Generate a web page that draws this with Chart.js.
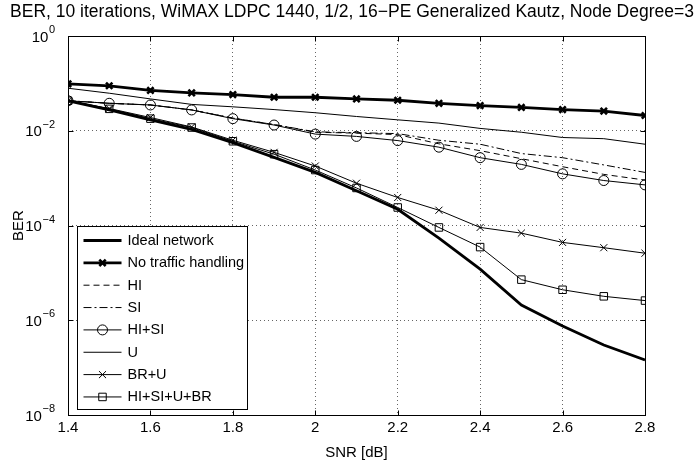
<!DOCTYPE html>
<html>
<head>
<meta charset="utf-8">
<script src="https://cdn.jsdelivr.net/npm/chart.js@4.4.0/dist/chart.umd.min.js"></script>
<style>html,body{margin:0;padding:0;background:#fff;}canvas{display:block;}</style>
</head>
<body>
<canvas id="c" width="694" height="471"></canvas>
<script>
// ---- data ----
const snr = [1.4, 1.5, 1.6, 1.7, 1.8, 1.9, 2.0, 2.1, 2.2, 2.3, 2.4, 2.5, 2.6, 2.7, 2.8];
const idealNetwork      = [4.3e-2, 2.75e-2, 1.7e-2, 1.07e-2, 5.6e-3, 2.75e-3, 1.32e-3, 5.4e-4, 2.2e-4, 5.4e-5, 1.2e-5, 2.1e-6, 7.6e-7, 3.0e-7, 1.45e-7];
const noTrafficHandling = [9.8e-2, 8.9e-2, 7.1e-2, 6.3e-2, 5.8e-2, 5.1e-2, 5.1e-2, 4.7e-2, 4.4e-2, 3.8e-2, 3.4e-2, 3.1e-2, 2.8e-2, 2.6e-2, 2.1e-2];
const hi                = [4.3e-2, 3.8e-2, 3.5e-2, 2.75e-2, 1.85e-2, 1.35e-2, 9.3e-3, 8.9e-3, 8.3e-3, 5.3e-3, 3.8e-3, 2.57e-3, 1.74e-3, 1.2e-3, 9.1e-4];
const si                = [4.3e-2, 3.8e-2, 3.5e-2, 2.75e-2, 1.85e-2, 1.35e-2, 9.5e-3, 9.1e-3, 8.7e-3, 6.3e-3, 5.2e-3, 3.3e-3, 2.7e-3, 1.9e-3, 1.32e-3];
const hiSi              = [4.3e-2, 3.8e-2, 3.5e-2, 2.75e-2, 1.8e-2, 1.32e-2, 8.5e-3, 7.6e-3, 6.2e-3, 4.5e-3, 2.7e-3, 1.95e-3, 1.23e-3, 8.9e-4, 7.2e-4];
const u                 = [7.9e-2, 6.2e-2, 4.7e-2, 3.6e-2, 3.2e-2, 2.8e-2, 2.4e-2, 2.0e-2, 1.7e-2, 1.45e-2, 1.12e-2, 9.3e-3, 7.2e-3, 6.8e-3, 5.2e-3];
const brU               = [4.3e-2, 2.95e-2, 1.9e-2, 1.2e-2, 6.3e-3, 3.5e-3, 1.8e-3, 7.8e-4, 3.9e-4, 2.1e-4, 9.1e-5, 6.9e-5, 4.4e-5, 3.4e-5, 2.6e-5];
const hiSiUBr           = [4.3e-2, 2.9e-2, 1.8e-2, 1.17e-2, 6.0e-3, 3.2e-3, 1.48e-3, 6.2e-4, 2.4e-4, 9.1e-5, 3.5e-5, 7.2e-6, 4.4e-6, 3.2e-6, 2.6e-6];

const xTickValues = [1.4, 1.6, 1.8, 2.0, 2.2, 2.4, 2.6, 2.8];
const xTickLabels = ['1.4', '1.6', '1.8', '2', '2.2', '2.4', '2.6', '2.8'];
const yTickValues = [1, 1e-2, 1e-4, 1e-6, 1e-8];
const yTickBase = '10';
const yTickExponents = ['0', '\u22122', '\u22124', '\u22126', '\u22128'];

const titleText = 'BER, 10 iterations, WiMAX LDPC 1440, 1/2, 16\u2212PE Generalized Kautz, Node Degree=3';

// ---- chart ----
const FONT = "'Liberation Sans', Arial, Helvetica, sans-serif";
Chart.defaults.font.family = FONT;
Chart.defaults.font.size = 15;
Chart.defaults.color = '#000';

function pts(arr) { return snr.map((x, i) => ({x: x, y: arr[i]})); }

function series(label, arr, opt) {
  return Object.assign({
    label: label,
    data: pts(arr),
    borderColor: '#000',
    backgroundColor: 'rgba(0,0,0,0)',
    pointBackgroundColor: 'rgba(0,0,0,0)',
    pointBorderColor: '#000',
    borderWidth: 1,
    pointRadius: 0,
    pointHoverRadius: 0,
    pointBorderWidth: 1,
    tension: 0,
    fill: false
  }, opt);
}

const datasets = [
  series('Ideal network', idealNetwork, {borderWidth: 2.8}),
  series('No traffic handling', noTrafficHandling, {borderWidth: 2.8, pointStyle: 'crossRot', pointRadius: 4.5, pointBorderWidth: 2.6}),
  series('HI', hi, {borderDash: [6, 4]}),
  series('SI', si, {borderDash: [8, 3, 2, 3]}),
  series('HI+SI', hiSi, {pointStyle: 'circle', pointRadius: 5}),
  series('U', u, {}),
  series('BR+U', brU, {pointStyle: 'crossRot', pointRadius: 5}),
  series('HI+SI+U+BR', hiSiUBr, {pointStyle: 'rect', pointRadius: 5.3})
];

function drawMarker(ctx, style, r, lw, cx, cy) {
  if (!style || !r) return;
  ctx.save();
  ctx.setLineDash([]);
  ctx.lineWidth = lw;
  ctx.strokeStyle = '#000';
  ctx.beginPath();
  if (style === 'circle') {
    ctx.arc(cx, cy, r, 0, Math.PI * 2);
  } else if (style === 'rect') {
    const s = r * Math.SQRT1_2;
    ctx.rect(cx - s, cy - s, 2 * s, 2 * s);
  } else if (style === 'crossRot') {
    const s = r * Math.SQRT1_2;
    ctx.moveTo(cx - s, cy - s); ctx.lineTo(cx + s, cy + s);
    ctx.moveTo(cx - s, cy + s); ctx.lineTo(cx + s, cy - s);
  }
  ctx.stroke();
  ctx.restore();
}

const framePlugin = {
  id: 'frame',
  afterDatasetsDraw(chart) {
    const {ctx, chartArea: a, scales} = chart;
    const L = Math.round(a.left) + 0.5, R = Math.round(a.right) + 0.5;
    const T = Math.round(a.top) + 0.5, B = Math.round(a.bottom) + 0.5;
    ctx.save();
    ctx.strokeStyle = '#000';
    ctx.lineWidth = 1;
    ctx.setLineDash([]);
    ctx.strokeRect(L, T, R - L, B - T);
    const tl = 5;
    ctx.beginPath();
    xTickValues.forEach(v => {
      const px = Math.round(scales.x.getPixelForValue(v)) + 0.5;
      ctx.moveTo(px, B); ctx.lineTo(px, B - tl);
      ctx.moveTo(px, T); ctx.lineTo(px, T + tl);
    });
    yTickValues.forEach(v => {
      const py = Math.round(scales.y.getPixelForValue(v)) + 0.5;
      ctx.moveTo(L, py); ctx.lineTo(L + tl, py);
      ctx.moveTo(R, py); ctx.lineTo(R - tl, py);
    });
    ctx.stroke();

    // y tick labels: "10" with a raised exponent
    ctx.fillStyle = '#000';
    ctx.textBaseline = 'middle';
    ctx.textAlign = 'left';
    const baseFont = '15px ' + FONT, expFont = '11px ' + FONT;
    const rightEdge = a.left - 13;
    yTickValues.forEach((v, i) => {
      const py = scales.y.getPixelForValue(v);
      ctx.font = expFont;
      const we = ctx.measureText(yTickExponents[i]).width;
      ctx.font = baseFont;
      const wb = ctx.measureText(yTickBase).width;
      const x0 = rightEdge - we - wb - 0.5;
      ctx.fillText(yTickBase, x0, py + 1.5);
      ctx.font = expFont;
      ctx.fillText(yTickExponents[i], x0 + wb + 0.5, py - 6);
    });
    ctx.restore();
  },
  afterDraw(chart) {
    const {ctx, chartArea: a} = chart;
    const bx = Math.round(a.left) + 9.5, bw = 170;
    const rowH = 22.35;
    const bh = 183;
    const by = Math.round(a.bottom) - 5.5 - bh;
    ctx.save();
    ctx.fillStyle = '#fff';
    ctx.fillRect(bx, by, bw, bh);
    ctx.strokeStyle = '#000';
    ctx.lineWidth = 1;
    ctx.strokeRect(bx, by, bw, bh);
    ctx.font = '14.5px ' + FONT;
    ctx.fillStyle = '#000';
    ctx.textBaseline = 'middle';
    ctx.textAlign = 'left';
    chart.data.datasets.forEach((ds, i) => {
      const cy = by + 14 + i * rowH;
      const x0 = bx + 6, x1 = bx + 44;
      ctx.save();
      ctx.lineWidth = ds.borderWidth;
      ctx.setLineDash(ds.borderDash || []);
      ctx.beginPath();
      ctx.moveTo(x0, cy); ctx.lineTo(x1, cy);
      ctx.stroke();
      ctx.restore();
      drawMarker(ctx, ds.pointStyle, ds.pointRadius, ds.pointBorderWidth, (x0 + x1) / 2, cy);
      ctx.fillText(ds.label, bx + 50, cy + 0.5);
    });
    ctx.restore();
  }
};

new Chart(document.getElementById('c'), {
  type: 'line',
  data: {datasets: datasets},
  plugins: [framePlugin],
  options: {
    responsive: false,
    animation: false,
    devicePixelRatio: 1,
    events: [],
    layout: {padding: {left: 10, right: 0, top: 0, bottom: 0}},
    plugins: {
      legend: {display: false},
      tooltip: {enabled: false},
      title: {
        display: true,
        text: titleText,
        color: '#000',
        font: {size: 17.5, weight: 'normal', family: FONT},
        padding: {top: 2, bottom: 13}
      }
    },
    scales: {
      x: {
        type: 'linear',
        min: 1.4,
        max: 2.8,
        afterBuildTicks(scale) { scale.ticks = xTickValues.map(v => ({value: v})); },
        afterFit(scale) { scale.height = 56; },
        ticks: {
          padding: 4,
          maxRotation: 0,
          autoSkip: false,
          font: {size: 15},
          callback: (v, i) => xTickLabels[i]
        },
        grid: {color: 'rgba(0,0,0,0.6)', lineWidth: 1, drawTicks: false},
        border: {display: false, dash: [1, 3]},
        title: {display: true, text: 'SNR [dB]', font: {size: 15}, padding: {top: 0, bottom: 9}}
      },
      y: {
        type: 'logarithmic',
        position: 'left',
        min: 1e-8,
        max: 1,
        afterBuildTicks(scale) { scale.ticks = yTickValues.map(v => ({value: v})); },
        afterFit(scale) { scale.width = 58; },
        ticks: {display: false},
        grid: {color: 'rgba(0,0,0,0.6)', lineWidth: 1, drawTicks: false},
        border: {display: false, dash: [1, 3]},
        title: {display: true, text: 'BER', font: {size: 15}, padding: {top: 0, bottom: 0}}
      },
      yR: {
        type: 'linear',
        position: 'right',
        display: true,
        afterFit(scale) { scale.width = 49; },
        ticks: {display: false},
        grid: {display: false, drawTicks: false},
        border: {display: false}
      }
    }
  }
});
</script>
</body>
</html>
